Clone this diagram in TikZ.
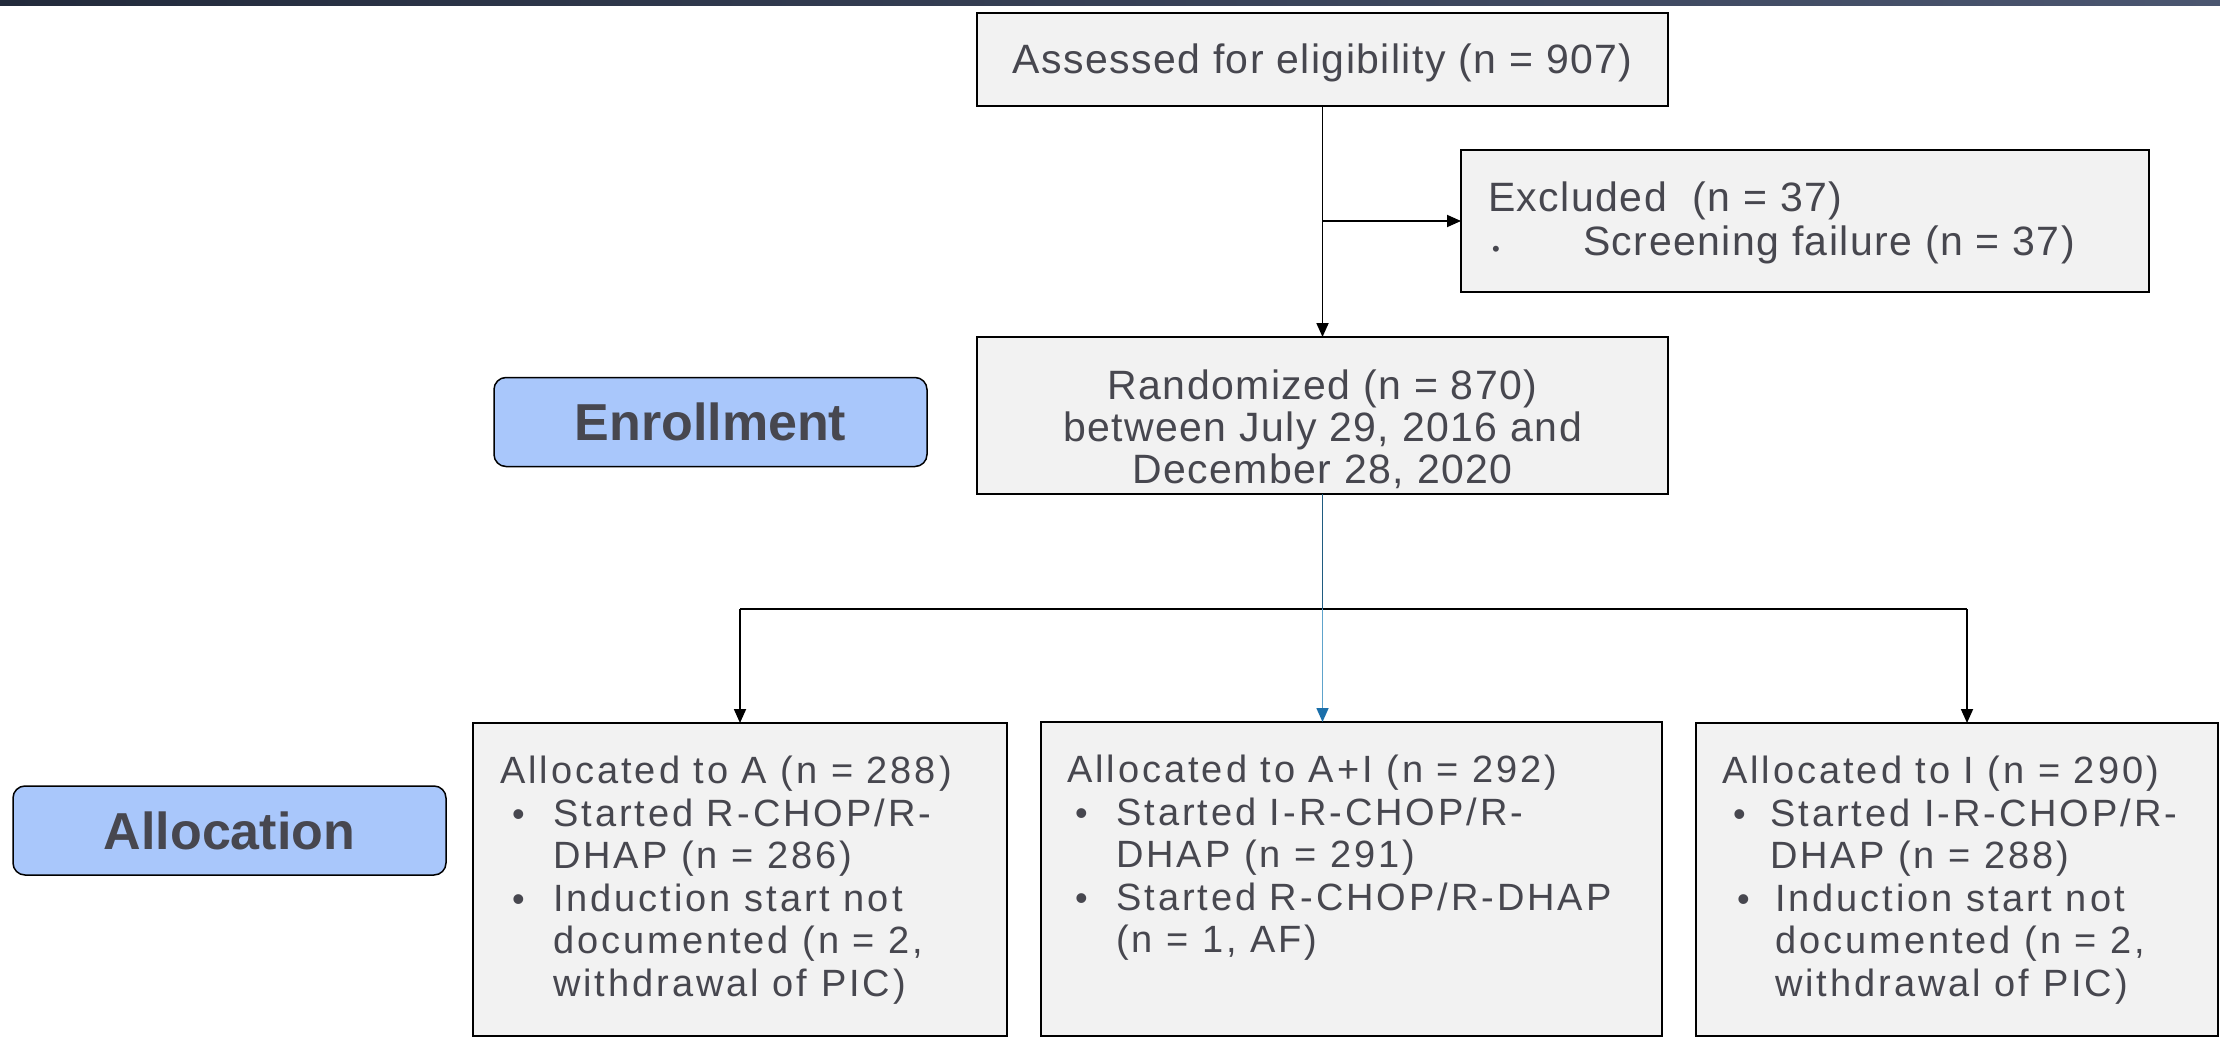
\documentclass[tikz,border=0pt]{standalone}
\usepackage{fontspec}
\setmainfont{Liberation Sans}
\newfontfamily\topfont{Liberation Sans}[LetterSpace=3.5]
\newfontfamily\armfont{Liberation Sans}[LetterSpace=7.8]
\usetikzlibrary{arrows.meta}

\definecolor{txt}{HTML}{47474F}
\definecolor{boxgray}{HTML}{F2F2F2}
\definecolor{stageblue}{HTML}{A9C7FB}
\definecolor{barleft}{HTML}{222A3B}
\definecolor{barright}{HTML}{4B5670}
\definecolor{bluedark}{HTML}{1F5B80}
\definecolor{bluelight}{HTML}{5EA3CB}
\definecolor{bluetip}{HTML}{1B6FAA}

% bullet column: #1 = text indent, #2 = bullet offset
\newcommand{\bul}[2]{\makebox[#1][l]{\hspace*{#2}{\fontsize{36}{36}\selectfont •}}}
\newcommand{\smalldot}{\raisebox{-1pt}{\fontsize{22}{22}\selectfont •}}

\begin{document}
\begin{tikzpicture}[x=1pt,y=-1pt]
\tikzset{
  flowbox/.style={draw=black,line width=1.8pt,fill=boxgray,inner sep=0pt,outer sep=0pt},
  stagelabel/.style={draw=black,line width=1.5pt,fill=stageblue,rounded corners=12pt,
    inner sep=0pt,minimum width=433pt,minimum height=89pt,text=txt,
    font=\fontsize{52}{62}\selectfont\bfseries},
  toptext/.style={inner sep=0pt,text=txt,font=\topfont\fontsize{41}{42}\selectfont,align=left},
  armtext/.style={inner sep=0pt,text=txt,font=\armfont\fontsize{38}{42.5}\selectfont,align=left},
  link/.style={line width=1.8pt,-{Triangle[width=12pt,length=14pt]}},
}
\path[use as bounding box] (0,0) rectangle (2220,1038);

% header bar
\shade[left color=barleft,right color=barright] (0,0) rectangle (2220,6);

% enrollment part
\node[flowbox,minimum width=691pt,minimum height=93pt] (assess) at (1322.5,59.5) {};
\node[toptext,align=center] (assesstxt) at (1322.5,63) {Assessed for eligibility (n = 907)};

\node[flowbox,minimum width=688pt,minimum height=142pt] (excl) at (1805,221) {};
\node[toptext,anchor=north west,font=\topfont\fontsize{41}{44}\selectfont] (excltxt) at (1488,182)
  {Excluded\ \ (n = 37)\\ \makebox[95pt][l]{\hspace*{4pt}\smalldot}Screening failure (n = 37)};

\node[flowbox,minimum width=691pt,minimum height=157pt] (rand) at (1322.5,415.5) {};
\node[toptext,align=center] (randtxt) at (1322.5,429)
  {Randomized (n = 870)\\between July 29, 2016 and\\December 28, 2020};

\node[stagelabel] (enroll) at (710.5,422) {Enrollment};
\node[stagelabel] (alloc) at (229.5,830.5) {Allocation};

% allocation arms
\node[flowbox,minimum width=534pt,minimum height=313pt] (armA) at (740,879.5) {};
\node[flowbox,minimum width=621pt,minimum height=314pt] (armAI) at (1351.5,879) {};
\node[flowbox,minimum width=522pt,minimum height=313pt] (armI) at (1957,879.5) {};

\node[armtext,anchor=north west] (armAtxt) at (500,756)
  {Allocated to A (n = 288)\\
   \bul{53pt}{12pt}Started R-CHOP/R-\\
   \hspace*{53pt}DHAP (n = 286)\\
   \bul{53pt}{12pt}Induction start not\\
   \hspace*{53pt}documented (n = 2,\\
   \hspace*{53pt}withdrawal of PIC)};

\node[armtext,anchor=north west] (armAItxt) at (1067,755)
  {Allocated to A+I (n = 292)\\
   \bul{49pt}{8pt}Started I-R-CHOP/R-\\
   \hspace*{49pt}DHAP (n = 291)\\
   \bul{49pt}{8pt}Started R-CHOP/R-DHAP\\
   \hspace*{49pt}(n = 1, AF)};

\node[armtext,anchor=north west] (armItxt) at (1722,756)
  {Allocated to I (n = 290)\\
   \bul{48pt}{11pt}Started I-R-CHOP/R-\\
   \hspace*{48pt}DHAP (n = 288)\\
   \bul{53pt}{15pt}Induction start not\\
   \hspace*{53pt}documented (n = 2,\\
   \hspace*{53pt}withdrawal of PIC)};

% connectors
\draw[link] (assess.south) -- (rand.north);
\coordinate (exclfork) at (assess.south |- excl.west);
\draw[link] (exclfork) -- (excl.west);

\coordinate (split) at (1322.5,609);
\coordinate (splitA) at (740,609);
\coordinate (splitI) at (1967,609);
\draw[line width=1.8pt] (splitA) -- (splitI);
\draw[link] (splitA) -- (armA.north);
\draw[link] (splitI) -- (splitI |- armI.north);
\draw[line width=1.6pt,draw=bluedark] (rand.south) -- (split);
\draw[line width=1.6pt,draw=bluelight,-{Triangle[width=12pt,length=14pt,color=bluetip]}]
  (split) -- (split |- armAI.north);
\end{tikzpicture}
\end{document}
